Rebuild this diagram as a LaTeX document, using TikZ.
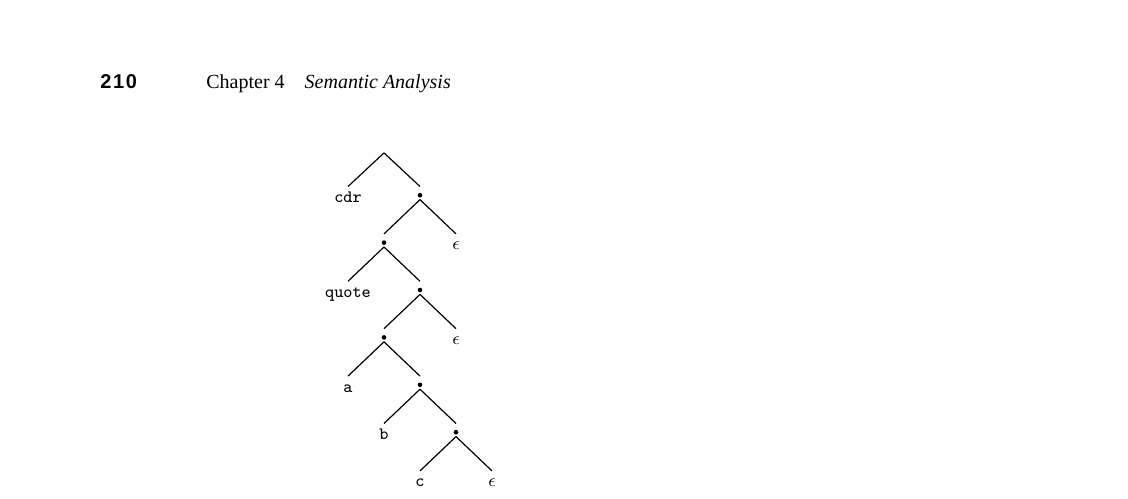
\documentclass[tikz,border=0pt]{standalone}
\usepackage{fontspec}
\setmainfont{Liberation Serif}
\newfontfamily\pagenofont[LetterSpace=8]{Liberation Sans}
\begin{document}
\begin{tikzpicture}[x=0.5pt, y=-0.5pt, inner sep=0pt,
		leafstyle/.style={anchor=north, text height=7.75pt, text depth=0pt, font=\fontsize{8.7}{10}\selectfont\ttfamily},
		dotstyle/.style={anchor=north, minimum width=4pt, minimum height=6.15pt,
			path picture={\fill ([yshift=-4.15pt]path picture bounding box.north) circle (1.15pt);}},
		edgestyle/.style={line width=0.6pt}]
		\useasboundingbox (0,0) rectangle (1128,498);

		% running head
		\node [anchor=base west, font=\fontsize{10}{12}\selectfont\pagenofont\bfseries] (pageno) at (100,88) {210};
		\node [anchor=base west, font=\fontsize{10}{12}\selectfont] (chapter) at (206,88) {Chapter 4\quad\textit{Semantic Analysis}};

		% tree
		\node (root) at (384,151.5) {};
		\node [leafstyle] (cdr) at (348,186.5) {cdr};
		\node [dotstyle] (d1) at (420,186.5) {};
		\node [dotstyle] (d2) at (384,233.9) {};
		\node [leafstyle] (e1) at (456,233.9) {$\epsilon$};
		\node [leafstyle] (quote) at (348,281.3) {quote};
		\node [dotstyle] (d3) at (420,281.3) {};
		\node [dotstyle] (d4) at (384,328.7) {};
		\node [leafstyle] (e2) at (456,328.7) {$\epsilon$};
		\node [leafstyle] (a) at (348,376.1) {a};
		\node [dotstyle] (d5) at (420,376.1) {};
		\node [leafstyle] (b) at (384,423.5) {b};
		\node [dotstyle] (d6) at (456,423.5) {};
		\node [leafstyle] (c) at (420,470.9) {c};
		\node [leafstyle] (e3) at (492,470.9) {$\epsilon$};

		\foreach \p/\c in {root/cdr, root/d1, d1/d2, d1/e1, d2/quote, d2/d3, d3/d4, d3/e2,
				d4/a, d4/d5, d5/b, d5/d6, d6/c, d6/e3}
			\draw [edgestyle] (\p.south) -- (\c.north);
\end{tikzpicture}
\end{document}
